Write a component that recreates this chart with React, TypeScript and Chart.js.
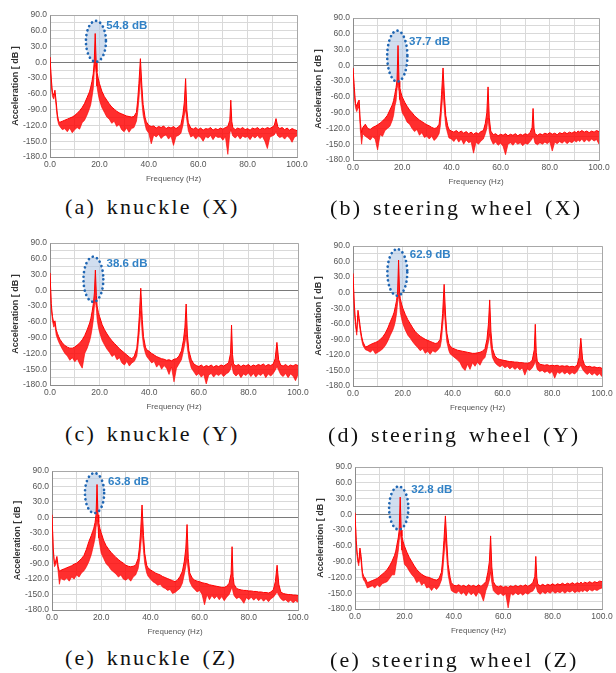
import React, { useEffect, useRef } from 'react';
import { Chart, registerables } from 'chart.js';

Chart.register(...registerables);

// ---------- data ----------
const FREQ = [
  0, 0.5, 1, 1.5, 2, 2.5, 3, 3.5, 4, 5,
  6, 7, 8, 9, 10, 11, 12, 13, 14, 15,
  16, 16.5, 17, 17.5, 17.9, 18.3, 18.7, 19, 19.5, 20,
  21, 22, 23, 24, 25, 26, 27, 28, 29, 30,
  31, 32, 33, 34, 35, 35.5, 36, 36.6, 37.2, 37.7,
  38.5, 39, 40, 41, 42, 43, 44, 45, 46, 47,
  48, 49, 50, 51, 52, 53, 53.8, 54.4, 54.9, 55.4,
  56, 57, 58, 59, 60, 61, 62, 63, 64, 65,
  66, 67, 68, 69, 70, 71, 72, 72.8, 73.2, 73.6,
  74, 75, 76, 77, 78, 79, 80, 81, 82, 83,
  84, 85, 86, 87, 88, 89, 90, 90.8, 91.5, 92.2,
  93, 94, 95, 96, 97, 98, 99, 100,
];

// (a) knuckle (X)
const UPPER_A = [
  10, -30, -58, -62, -53, -75, -100, -112, -114, -112,
  -110, -108, -106, -104, -101, -97, -92, -86, -78, -67,
  -56, -47, -36, -22, 0, 54.8, 0, -18, -30, -40,
  -55, -65, -72, -79, -85, -89, -93, -96, -98, -100,
  -102, -103, -104, -103, -95, -72, -40, 7, -45, -80,
  -105, -113, -120, -122, -121, -125, -122, -124, -121, -126,
  -123, -125, -122, -126, -123, -118, -100, -75, -31, -90,
  -115, -125, -127, -124, -128, -125, -129, -126, -127, -124,
  -129, -126, -128, -125, -127, -124, -122, -110, -72, -112,
  -124, -128, -125, -127, -124, -128, -126, -129, -125, -127,
  -124, -128, -125, -127, -124, -126, -123, -120, -107, -122,
  -126, -124, -128, -125, -129, -126, -128, -130,
];
const LOWER_A = [
  10, -45, -65, -70, -60, -85, -108, -118, -122, -128,
  -126, -132, -125, -134, -128, -124, -127, -115, -110, -100,
  -88, -80, -66, -50, -20, -5, -22, -45, -60, -72,
  -86, -95, -104, -108, -116, -112, -122, -118, -128, -132,
  -125, -133, -126, -124, -112, -95, -70, -30, -75, -100,
  -118, -128, -135, -155, -138, -142, -137, -145, -140, -138,
  -146, -140, -158, -141, -139, -135, -120, -100, -90, -110,
  -130, -142, -139, -146, -140, -143, -150, -141, -144, -139,
  -147, -140, -143, -142, -148, -141, -175, -135, -128, -134,
  -140, -144, -139, -146, -140, -143, -141, -147, -140, -144,
  -139, -145, -141, -150, -164, -142, -140, -138, -132, -140,
  -143, -141, -146, -140, -144, -152, -142, -140,
];

// (b) steering wheel (X)
const UPPER_B = [
  -5, -40, -72, -78, -70, -66, -110, -128, -118, -112,
  -120, -122, -118, -116, -113, -110, -106, -101, -95, -85,
  -75, -67, -55, -42, -28, 37.7, -30, -42, -52, -60,
  -70, -78, -85, -90, -96, -100, -104, -107, -110, -113,
  -115, -118, -120, -119, -112, -90, -55, -5, -60, -95,
  -115, -122, -125, -127, -124, -128, -125, -129, -126, -130,
  -127, -131, -128, -130, -126, -124, -110, -90, -41, -100,
  -125, -132, -130, -134, -131, -133, -130, -134, -131, -133,
  -130, -134, -131, -133, -130, -132, -128, -118, -82, -120,
  -130, -133, -130, -132, -129, -131, -128, -131, -129, -132,
  -128, -130, -127, -130, -127, -129, -126, -128, -125, -127,
  -124, -127, -125, -128, -125, -127, -124, -126,
];
const LOWER_B = [
  -5, -55, -80, -88, -82, -80, -125, -150, -130, -135,
  -138, -142, -136, -140, -161, -132, -135, -124, -120, -116,
  -104, -95, -78, -68, -45, -35, -50, -65, -78, -90,
  -98, -108, -112, -120, -126, -122, -133, -128, -137, -135,
  -140, -135, -143, -138, -130, -115, -85, -50, -90, -115,
  -130, -138, -140, -145, -138, -146, -140, -150, -142, -147,
  -145, -167, -146, -150, -144, -140, -130, -120, -100, -125,
  -140, -150, -146, -152, -148, -154, -170, -150, -147, -152,
  -146, -150, -147, -153, -148, -150, -145, -140, -135, -140,
  -148, -151, -147, -150, -146, -149, -145, -163, -146, -149,
  -145, -148, -144, -149, -145, -147, -143, -146, -142, -145,
  -140, -146, -141, -145, -140, -144, -141, -150,
];

// (c) knuckle (Y)
const UPPER_C = [
  33, -25, -50, -62, -58, -75, -82, -88, -93, -100,
  -105, -108, -110, -110, -108, -104, -100, -94, -86, -75,
  -62, -53, -40, -25, -5, 38.6, -10, -30, -42, -50,
  -65, -75, -83, -90, -96, -101, -106, -111, -115, -119,
  -123, -127, -130, -125, -110, -85, -50, 4, -55, -88,
  -108, -113, -116, -120, -123, -126, -128, -130, -131, -133,
  -132, -134, -131, -130, -125, -115, -95, -70, -26, -85,
  -115, -132, -140, -143, -145, -142, -146, -143, -145, -142,
  -146, -143, -145, -142, -144, -141, -138, -120, -66, -122,
  -140, -144, -141, -145, -142, -144, -141, -145, -142, -144,
  -141, -143, -140, -144, -141, -143, -140, -130, -99, -132,
  -142, -144, -141, -145, -142, -144, -141, -143,
];
const LOWER_C = [
  33, -35, -58, -70, -66, -85, -92, -98, -103, -112,
  -120, -125, -133, -128, -136, -130, -140, -148, -120, -110,
  -96, -86, -72, -55, -30, -20, -35, -55, -70, -80,
  -95, -104, -112, -118, -126, -122, -132, -128, -138, -142,
  -135, -144, -138, -135, -125, -105, -80, -40, -85, -105,
  -120, -126, -132, -138, -135, -146, -140, -150, -143, -148,
  -160, -146, -174, -148, -140, -132, -115, -100, -85, -110,
  -130, -148, -155, -162, -158, -165, -160, -178, -161, -158,
  -165, -159, -162, -158, -164, -159, -156, -150, -140, -150,
  -158, -163, -158, -166, -159, -162, -157, -164, -158, -165,
  -159, -162, -157, -166, -159, -163, -158, -152, -145, -152,
  -160, -164, -158, -166, -159, -163, -172, -160,
];

// (d) steering wheel (Y)
const UPPER_D = [
  37, -20, -55, -75, -34, -50, -70, -85, -95, -105,
  -103, -100, -98, -96, -94, -90, -85, -78, -68, -56,
  -45, -38, -27, -15, 0, 62.9, 0, -12, -22, -30,
  -42, -52, -60, -68, -75, -80, -84, -87, -90, -92,
  -94, -96, -98, -97, -90, -70, -40, 16, -45, -78,
  -98, -103, -107, -109, -111, -112, -113, -114, -115, -116,
  -117, -117, -116, -115, -113, -108, -90, -60, -14, -75,
  -108, -122, -127, -129, -130, -131, -132, -133, -133, -134,
  -134, -135, -135, -136, -136, -135, -130, -110, -61, -115,
  -132, -138, -139, -140, -139, -141, -140, -141, -140, -142,
  -141, -142, -141, -143, -142, -143, -140, -125, -88, -128,
  -140, -143, -142, -144, -143, -145, -144, -146,
];
const LOWER_D = [
  37, -35, -65, -82, -45, -60, -78, -92, -102, -110,
  -112, -115, -110, -118, -115, -112, -108, -102, -93, -82,
  -72, -65, -55, -40, -20, -5, -20, -38, -50, -60,
  -72, -82, -88, -95, -101, -106, -112, -108, -117, -113,
  -119, -112, -115, -111, -105, -92, -65, -30, -70, -95,
  -112, -118, -122, -126, -130, -135, -145, -150, -138, -148,
  -135, -142, -134, -140, -130, -125, -110, -95, -80, -105,
  -125, -135, -140, -143, -140, -145, -142, -147, -143, -148,
  -144, -149, -145, -159, -147, -150, -145, -138, -130, -140,
  -148, -152, -150, -154, -151, -156, -152, -165, -153, -156,
  -152, -157, -153, -158, -154, -157, -152, -145, -140, -148,
  -153, -158, -154, -159, -155, -160, -156, -162,
];

// (e) knuckle (Z)
const UPPER_E = [
  5, -60, -90, -85, -76, -95, -105, -103, -102, -100,
  -98, -96, -94, -91, -89, -85, -80, -74, -62, -47,
  -35, -28, -21, -10, 5, 63.8, 5, -10, -22, -30,
  -45, -55, -62, -68, -73, -78, -82, -86, -89, -93,
  -95, -96, -95, -93, -80, -60, -30, 24, -35, -70,
  -93, -98, -102, -105, -108, -110, -112, -115, -117, -119,
  -121, -123, -125, -122, -115, -105, -85, -60, -14, -80,
  -108, -118, -122, -124, -125, -127, -128, -129, -131, -132,
  -133, -134, -135, -136, -136, -134, -128, -110, -57, -115,
  -130, -138, -140, -141, -142, -142, -143, -143, -144, -144,
  -145, -145, -146, -146, -147, -145, -140, -125, -93, -130,
  -145, -148, -149, -150, -150, -151, -151, -152,
];
const LOWER_E = [
  5, -68, -96, -92, -85, -105, -130, -118, -120, -122,
  -118, -124, -116, -120, -112, -116, -108, -104, -96, -86,
  -72, -62, -52, -40, -20, -5, -20, -40, -55, -70,
  -80, -90, -95, -102, -106, -110, -116, -112, -120, -122,
  -118, -124, -116, -112, -100, -85, -60, -25, -65, -90,
  -108, -114, -120, -125, -128, -132, -130, -136, -138, -142,
  -140, -148, -146, -142, -138, -128, -110, -95, -80, -105,
  -125, -135, -140, -145, -142, -150, -170, -150, -160, -152,
  -158, -153, -160, -154, -162, -155, -150, -140, -135, -145,
  -152, -158, -155, -160, -167, -156, -160, -155, -161, -156,
  -162, -157, -163, -158, -164, -158, -155, -150, -145, -152,
  -158, -162, -160, -165, -161, -166, -162, -165,
];

// (e) steering wheel (Z)
const UPPER_F = [
  3, -50, -80, -92, -64, -80, -110, -118, -120, -130,
  -128, -126, -124, -122, -118, -114, -110, -105, -98, -89,
  -78, -70, -57, -45, -30, 32.8, -30, -42, -52, -60,
  -72, -82, -90, -98, -105, -110, -114, -117, -119, -120,
  -122, -124, -125, -122, -110, -85, -50, -3, -55, -95,
  -120, -130, -135, -136, -134, -137, -135, -138, -134, -137,
  -135, -138, -134, -137, -133, -128, -110, -90, -41, -100,
  -128, -136, -138, -136, -139, -137, -139, -136, -138, -135,
  -138, -135, -137, -134, -137, -134, -130, -118, -80, -120,
  -133, -136, -133, -136, -133, -135, -132, -135, -132, -134,
  -131, -134, -131, -133, -130, -133, -130, -132, -129, -132,
  -129, -131, -128, -131, -128, -130, -127, -128,
];
const LOWER_F = [
  3, -62, -88, -98, -75, -92, -118, -125, -128, -140,
  -138, -136, -140, -134, -138, -132, -130, -128, -122, -115,
  -115, -100, -85, -70, -50, -35, -50, -68, -80, -95,
  -100, -108, -115, -120, -130, -126, -135, -130, -140, -138,
  -145, -138, -143, -137, -125, -110, -80, -45, -85, -115,
  -135, -145, -148, -150, -146, -152, -148, -155, -147, -153,
  -149, -156, -148, -152, -165, -145, -135, -125, -110, -130,
  -145, -150, -153, -150, -155, -151, -178, -150, -154, -149,
  -153, -150, -154, -149, -152, -148, -146, -140, -135, -142,
  -148, -152, -147, -151, -147, -150, -146, -150, -147, -149,
  -146, -150, -146, -148, -145, -149, -146, -148, -145, -147,
  -144, -147, -143, -146, -143, -145, -142, -140,
];

const UPPERS = [UPPER_A, UPPER_B, UPPER_C, UPPER_D, UPPER_E, UPPER_F];
const LOWERS = [LOWER_A, LOWER_B, LOWER_C, LOWER_D, LOWER_E, LOWER_F];

// peak annotations (data units)
const PEAK_LABELS = ['54.8 dB', '37.7 dB', '38.6 dB', '62.9 dB', '63.8 dB', '32.8 dB'];
const LABEL_DB = [69, 44, 51, 73, 68, 46];
const LABEL_HZ = 22.8;
const ELL_CX = [18.6, 18.0, 17.5, 17.8, 17.3, 17.7];
const ELL_CY = [40, 17.5, 21, 39, 47, 12];
const ELL_RX = [4.05, 4.1, 4.0, 4.0, 3.9, 3.9];
const ELL_RY = [39, 48.5, 43, 45, 39, 41];

const CAPTIONS = [
  '(a) knuckle (X)',
  '(b) steering wheel (X)',
  '(c) knuckle (Y)',
  '(d) steering wheel (Y)',
  '(e) knuckle (Z)',
  '(e) steering wheel (Z)',
];

const X_MIN = 0, X_MAX = 100, X_STEP = 10, X_LABEL_EVERY = 20;
const Y_MIN = -180, Y_MAX = 90, Y_STEP = 15, Y_LABEL_EVERY = 30;
const X_TITLE = 'Frequency (Hz)';
const Y_TITLE = 'Acceleration [ dB ]';

// ---------- layout & style ----------
const FONT = '"Liberation Sans", Arial, Helvetica, sans-serif';
const YW = 46;
const XH = 27;
const PT = 10;
const PR = 14;

const PANELS = [
  { L: 50, R: 297, T: 15, B: 157, capX: 65, capBase: 214.5 },
  { L: 353, R: 599, T: 18, B: 160, capX: 330, capBase: 215 },
  { L: 50, R: 298, T: 243, B: 385, capX: 65, capBase: 441 },
  { L: 353, R: 602, T: 246, B: 386, capX: 328, capBase: 442 },
  { L: 52, R: 298, T: 471, B: 610, capX: 65, capBase: 665.5 },
  { L: 355, R: 602, T: 467, B: 609, capX: 330, capBase: 667 },
];

function align(p: number) {
  return Math.round(p - 0.5) + 0.5;
}

function ellipseGeom(chart: any, i: number) {
  const x = chart.scales.x, y = chart.scales.y;
  const cx = x.getPixelForValue(ELL_CX[i]);
  const cy = y.getPixelForValue(ELL_CY[i]);
  const rx = Math.abs(x.getPixelForValue(ELL_CX[i] + ELL_RX[i]) - cx);
  const ry = Math.abs(cy - y.getPixelForValue(ELL_CY[i] + ELL_RY[i]));
  return { cx, cy, rx, ry };
}

function makeNotePlugin(i: number) {
  return {
    id: 'peakNote',
    beforeDatasetsDraw(chart: any) {
      const { ctx, chartArea: a } = chart;
      ctx.save();
      // frame top/right
      ctx.strokeStyle = '#a8a8a8';
      ctx.lineWidth = 1;
      ctx.beginPath();
      ctx.moveTo(align(a.left), align(a.top));
      ctx.lineTo(align(a.right), align(a.top));
      ctx.lineTo(align(a.right), align(a.bottom));
      ctx.stroke();
      // ellipse fill
      const { cx, cy, rx, ry } = ellipseGeom(chart, i);
      ctx.beginPath();
      ctx.ellipse(cx, cy, rx, ry, 0, 0, Math.PI * 2);
      ctx.fillStyle = 'rgba(178,200,228,0.6)';
      ctx.fill();
      ctx.restore();
    },
    afterDatasetsDraw(chart: any) {
      const { ctx, scales } = chart;
      const { cx, cy, rx, ry } = ellipseGeom(chart, i);
      ctx.save();
      ctx.beginPath();
      ctx.ellipse(cx, cy, rx, ry, 0, 0, Math.PI * 2);
      ctx.setLineDash([0.01, 4.6]);
      ctx.lineCap = 'round';
      ctx.lineWidth = 2.7;
      ctx.strokeStyle = '#1f66b3';
      ctx.stroke();
      ctx.setLineDash([]);
      ctx.font = 'bold 11.5px ' + FONT;
      ctx.fillStyle = '#3282c6';
      ctx.textAlign = 'left';
      ctx.textBaseline = 'middle';
      ctx.fillText(PEAK_LABELS[i], scales.x.getPixelForValue(LABEL_HZ), scales.y.getPixelForValue(LABEL_DB[i]));
      ctx.restore();
    },
  };
}

function Panel({ i }: { i: number }) {
  const ref = useRef<HTMLCanvasElement | null>(null);
  const p = PANELS[i];
  const cl = p.L - YW;
  const ct = p.T - PT;
  const cw = p.R - cl + PR;
  const ch = p.B - ct + XH;

  useEffect(() => {
    const up = UPPERS[i];
    const lo = LOWERS[i];
    const chart = new Chart(ref.current as HTMLCanvasElement, {
      type: 'line',
      data: {
        datasets: [
          {
            data: FREQ.map((f, k) => ({ x: f, y: up[k] })),
            borderColor: '#ff0000',
            borderWidth: 1,
            pointRadius: 0,
            tension: 0,
            fill: '+1',
            backgroundColor: 'rgba(255,0,0,0.82)',
          },
          {
            data: FREQ.map((f, k) => ({ x: f, y: lo[k] })),
            borderColor: 'rgba(255,40,40,0.75)',
            borderWidth: 1,
            pointRadius: 0,
            tension: 0,
            fill: false,
          },
        ],
      },
      options: {
        responsive: false,
        animation: false,
        devicePixelRatio: 1,
        events: [],
        layout: { padding: { top: PT, right: PR, left: 0, bottom: 0 } },
        plugins: {
          legend: { display: false },
          tooltip: { enabled: false },
          title: { display: false },
        },
        scales: {
          x: {
            type: 'linear',
            min: X_MIN,
            max: X_MAX,
            ticks: {
              stepSize: X_STEP,
              autoSkip: false,
              maxRotation: 0,
              padding: 3,
              color: '#555',
              font: { family: FONT, size: 8.5 },
              callback: (v: any) => (Number(v) % X_LABEL_EVERY === 0 ? Number(v).toFixed(1) : ''),
            },
            grid: { color: '#d9d9d9', lineWidth: 1, drawTicks: false },
            border: { display: true, color: '#8c8c8c' },
            title: {
              display: true,
              text: X_TITLE,
              color: '#555',
              font: { family: FONT, size: 8 },
              padding: 0,
            },
            afterFit: (s: any) => {
              s.height = XH;
            },
          },
          y: {
            type: 'linear',
            min: Y_MIN,
            max: Y_MAX,
            ticks: {
              stepSize: Y_STEP,
              autoSkip: false,
              padding: 3,
              color: '#555',
              font: { family: FONT, size: 8.5 },
              callback: (v: any) => (Number(v) % Y_LABEL_EVERY === 0 ? Number(v).toFixed(1) : ''),
            },
            grid: {
              drawTicks: false,
              lineWidth: 1,
              color: (c: any) => (c.tick && c.tick.value === 0 ? '#7a7a7a' : '#d9d9d9'),
            },
            border: { display: true, color: '#8c8c8c' },
            title: {
              display: true,
              text: Y_TITLE,
              color: '#333',
              font: { family: FONT, size: 9, weight: 'bold' },
              padding: { top: 6.6, bottom: 0 },
            },
            afterFit: (s: any) => {
              s.width = YW;
            },
          },
        },
      },
      plugins: [makeNotePlugin(i)],
    } as any);
    return () => chart.destroy();
  }, [i]);

  return (
    <>
      <canvas
        ref={ref}
        width={cw}
        height={ch}
        style={{ position: 'absolute', left: cl, top: ct, width: cw, height: ch }}
      />
      <div
        style={{
          position: 'absolute',
          left: p.capX,
          top: p.capBase - 18.4,
          fontFamily: '"Liberation Serif", "Times New Roman", serif',
          fontSize: 22,
          lineHeight: '22px',
          letterSpacing: '2.2px',
          wordSpacing: '3px',
          color: '#111',
          whiteSpace: 'nowrap',
        }}
      >
        {CAPTIONS[i]}
      </div>
    </>
  );
}

export default function App() {
  return (
    <div style={{ position: 'absolute', left: 0, top: 0, width: 616, height: 673, background: '#fff' }}>
      {PANELS.map((_, i) => (
        <Panel key={i} i={i} />
      ))}
    </div>
  );
}
